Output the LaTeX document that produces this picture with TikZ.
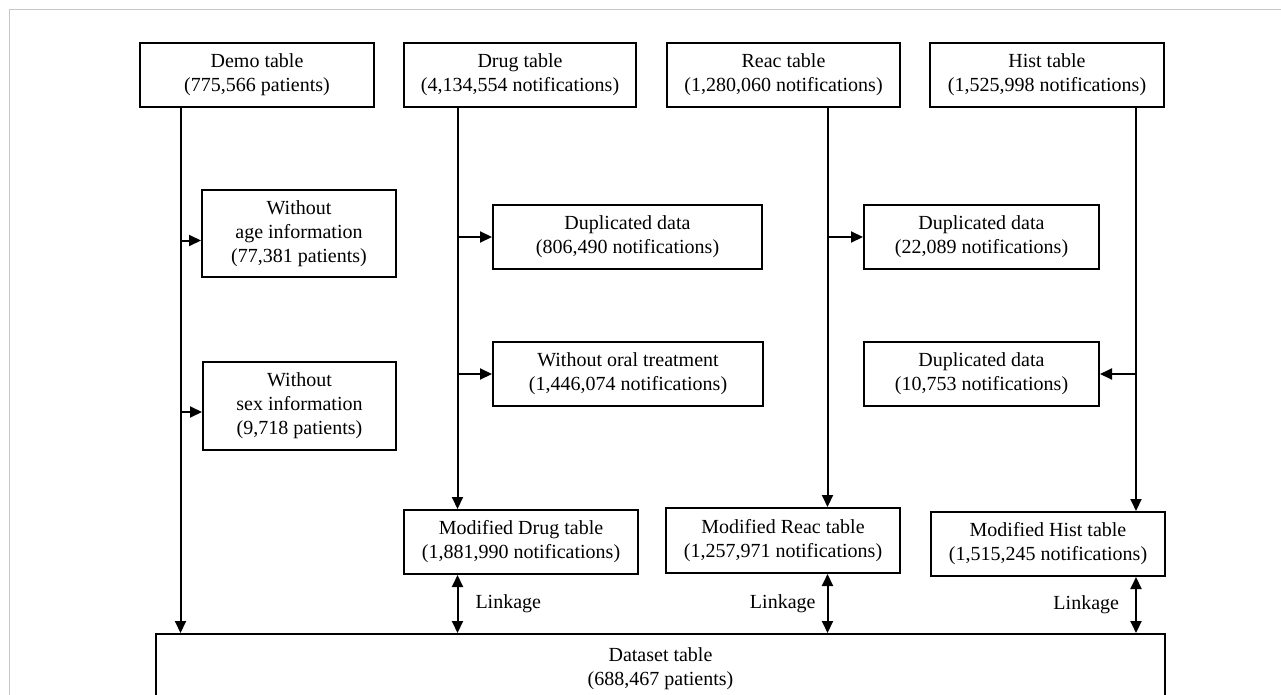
\documentclass[tikz,border=0pt]{standalone}
\usepackage{fontspec}
\setmainfont{Liberation Serif}
\usetikzlibrary{arrows.meta}

\tikzset{
  tbl/.style={draw, line width=2pt, minimum height=64pt, inner sep=0pt, align=center,
    font=\fontsize{20}{24}\selectfont},
  arr/.style={line width=2pt, -{Triangle[length=12pt,width=11pt]}},
  link/.style={line width=2pt, {Triangle[length=12pt,width=11pt]}-{Triangle[length=12pt,width=11pt]}},
  lbl/.style={font=\fontsize{20}{24}\selectfont, inner sep=0pt},
}

\begin{document}
\begin{tikzpicture}[x=1pt,y=-1pt]
\useasboundingbox (0,0) rectangle (1281,695);
\clip (0,0) rectangle (1281,695);
\draw [black!22, line width=1.2pt] (9.5,700) -- (9.5,9.5) -- (1290,9.5);

\node [tbl, minimum width=234pt] (demo) at (257,75) {Demo table\\(775,566 patients)};
\node [tbl, minimum width=232pt] (drug) at (520,75) {Drug table\\(4,134,554 notifications)};
\node [tbl, minimum width=233pt] (reac) at (783.5,75) {Reac table\\(1,280,060 notifications)};
\node [tbl, minimum width=234pt] (hist) at (1047,75) {Hist table\\(1,525,998 notifications)};

\node [tbl, minimum width=194pt, minimum height=87pt] (age) at (299,233.5) {Without\\age information\\(77,381 patients)};
\node [tbl, minimum width=193pt, minimum height=88pt] (sex) at (299.5,406) {Without\\sex information\\(9,718 patients)};
\node [tbl, minimum width=269pt] (dupdrug) at (627.5,237) {Duplicated data\\(806,490 notifications)};
\node [tbl, minimum width=270pt] (oral) at (628,374) {Without oral treatment\\(1,446,074 notifications)};
\node [tbl, minimum width=235pt] (dupreac) at (981.5,237) {Duplicated data\\(22,089 notifications)};
\node [tbl, minimum width=235pt] (duphist) at (981.5,374) {Duplicated data\\(10,753 notifications)};

\node [tbl, minimum width=234pt] (moddrug) at (521,542) {Modified Drug table\\(1,881,990 notifications)};
\node [tbl, minimum width=234pt, minimum height=65pt] (modreac) at (783,540.5) {Modified Reac table\\(1,257,971 notifications)};
\node [tbl, minimum width=234pt] (modhist) at (1048,544) {Modified Hist table\\(1,515,245 notifications)};

\node [tbl, minimum width=1009pt, minimum height=70pt] (dataset) at (660.5,669) {Dataset table\\(688,467 patients)};

\coordinate (demox) at (180.5,0);
\coordinate (drugx) at (457.5,0);
\coordinate (reacx) at (827.5,0);
\coordinate (histx) at (1136,0);

\draw [arr] (demo.south -| demox) -- (dataset.north -| demox);
\draw [arr] ([yshift=-7pt]age.west -| demox) -- ([yshift=-7pt]age.west);
\draw [arr] ([yshift=-6pt]sex.west -| demox) -- ([yshift=-6pt]sex.west);

\draw [arr] (drug.south -| drugx) -- (moddrug.north -| drugx);
\draw [arr] (dupdrug.west -| drugx) -- (dupdrug.west);
\draw [arr] (oral.west -| drugx) -- (oral.west);

\draw [arr] (reac.south -| reacx) -- (modreac.north -| reacx);
\draw [arr] (dupreac.west -| reacx) -- (dupreac.west);

\draw [arr] (hist.south -| histx) -- (modhist.north -| histx);
\draw [arr] (duphist.east -| histx) -- (duphist.east);

\draw [link] (moddrug.south -| drugx) -- (dataset.north -| drugx) node [lbl, midway, right, xshift=17pt] {Linkage};
\draw [link] (modreac.south -| reacx) -- (dataset.north -| reacx) node [lbl, midway, left, xshift=-11pt] {Linkage};
\draw [link] (modhist.south -| histx) -- (dataset.north -| histx) node [lbl, midway, left, xshift=-16pt] {Linkage};
\end{tikzpicture}
\end{document}
